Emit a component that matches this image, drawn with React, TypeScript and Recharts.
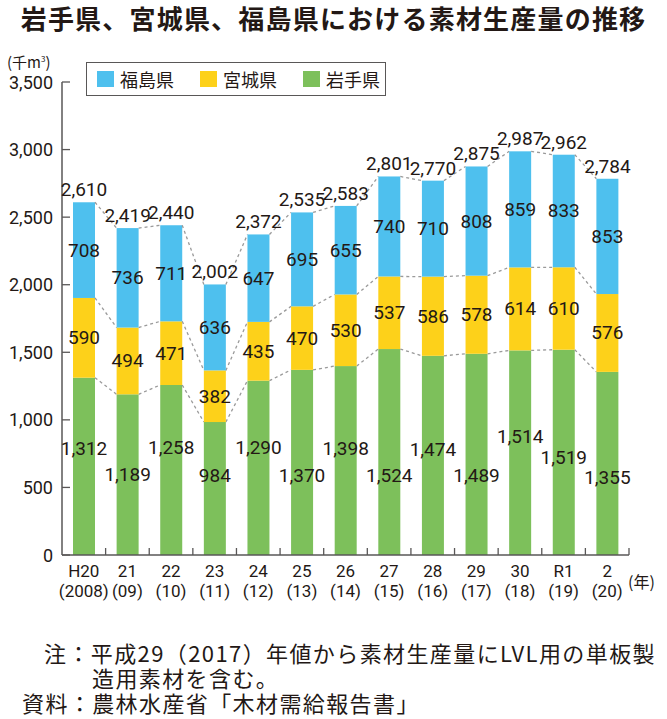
import { BarChart, Bar, XAxis, YAxis, LabelList, Legend } from 'recharts';

// 年度（和暦）と西暦
const years = ['H20', '21', '22', '23', '24', '25', '26', '27', '28', '29', '30', 'R1', '2'];
const westernYears = ['2008', '09', '10', '11', '12', '13', '14', '15', '16', '17', '18', '19', '20'];

// 県別の素材生産量（千㎥）
const iwate = [1312, 1189, 1258, 984, 1290, 1370, 1398, 1524, 1474, 1489, 1514, 1519, 1355];
const miyagi = [590, 494, 471, 382, 435, 470, 530, 537, 586, 578, 614, 610, 576];
const fukushima = [708, 736, 711, 636, 647, 695, 655, 740, 710, 808, 859, 833, 853];
const totals = [2610, 2419, 2440, 2002, 2372, 2535, 2583, 2801, 2770, 2875, 2987, 2962, 2784];

const yTicks = [0, 500, 1000, 1500, 2000, 2500, 3000, 3500];

// 岩手県ラベルの上下ずらし（重なり回避）
const iwateLabelShift = [-18, 0, -22, -13, -20, 13, -12, 23, -6, 21, -16, 5, 14];

const data = years.map((year, i) => ({
  year,
  western: westernYears[i],
  iwate: iwate[i],
  miyagi: miyagi[i],
  fukushima: fukushima[i],
  total: totals[i],
}));

const W = 667;
const H = 620;
const LEFT = 62;
const RIGHT = 38;
const BAND = (W - LEFT - RIGHT) / years.length;

const BLUE = '#4ec0ee';
const YELLOW = '#fdd11a';
const GREEN = '#7dc05b';
const AXIS = '#595757';
const TEXT = '#231815';
const JP = '"Noto Sans CJK JP", sans-serif';
const NUM = '"Liberation Sans Narrow", Roboto, sans-serif';

const fmt = (v: number) => v.toLocaleString('en-US');

type Key = 'iwate' | 'miyagi' | 'fukushima';
const lowOf = (key: Key, i: number) =>
  key === 'iwate' ? 0 : key === 'miyagi' ? iwate[i] : iwate[i] + miyagi[i];
const highOf = (key: Key, i: number) =>
  key === 'iwate' ? iwate[i] : key === 'miyagi' ? iwate[i] + miyagi[i] : totals[i];

// 棒と、次の棒の同じ段へ向かう点線
const makeShape = (key: Key, color: string) => (props: any) => {
  const { x, y, width, height } = props;
  const i = typeof props.index === 'number' ? props.index : years.indexOf(props.payload?.year);
  let line = null;
  if (i >= 0 && i < years.length - 1) {
    const low = lowOf(key, i);
    const high = highOf(key, i);
    const ppu = height / (high - low);
    const y0 = y + height + low * ppu;
    line = (
      <line
        x1={x + width}
        y1={y}
        x2={x + BAND}
        y2={y0 - highOf(key, i + 1) * ppu}
        stroke="#9a9a9a"
        strokeWidth={1.3}
        strokeDasharray="3 3"
      />
    );
  }
  return (
    <g>
      <rect x={x} y={y} width={width} height={height} fill={color} />
      {line}
    </g>
  );
};

const segLabel = (shift?: number[]) => (props: any) => {
  const vb = props.viewBox || props;
  const { x, y, width, height } = vb;
  const dy = shift ? shift[props.index] || 0 : 0;
  return (
    <text
      x={x + width / 2}
      y={y + height / 2 + dy}
      textAnchor="middle"
      dominantBaseline="central"
      fontFamily={NUM}
      fontSize={19}
      fill={TEXT}
    >
      {fmt(props.value)}
    </text>
  );
};

const totalLabel = (props: any) => {
  const vb = props.viewBox || props;
  const { x, y, width } = vb;
  return (
    <text x={x + width / 2} y={y - 6} textAnchor="middle" fontFamily={NUM} fontSize={19} fill={TEXT}>
      {fmt(totals[props.index])}
    </text>
  );
};

const XTick = (props: any) => {
  const { x, y, payload, index } = props;
  return (
    <g>
      <line x1={x + BAND / 2} y1={y} x2={x + BAND / 2} y2={y - 7} stroke={AXIS} strokeWidth={1.3} />
      <text x={x} y={y + 22} textAnchor="middle" fontFamily="Roboto" fontSize={17} fill={TEXT}>
        {payload.value}
      </text>
      <text x={x} y={y + 42} textAnchor="middle" fontFamily="Roboto" fontSize={17} fill={TEXT}>
        ({westernYears[index]})
      </text>
    </g>
  );
};

const YTick = (props: any) => {
  const { x, y, payload } = props;
  return (
    <g>
      <line x1={x} y1={y} x2={x + 8} y2={y} stroke={AXIS} strokeWidth={1.3} />
      <text x={x - 9} y={y} textAnchor="end" dominantBaseline="central" fontFamily="Roboto" fontSize={18} fill={TEXT}>
        {fmt(payload.value)}
      </text>
    </g>
  );
};

const legendItems = [
  { name: '福島県', color: BLUE },
  { name: '宮城県', color: YELLOW },
  { name: '岩手県', color: GREEN },
];

const LegendBox = () => (
  <div
    style={{
      display: 'flex',
      alignItems: 'center',
      gap: 26,
      width: 300,
      height: 34,
      boxSizing: 'border-box',
      border: `1.5px solid ${AXIS}`,
      background: '#fff',
      padding: '0 0 0 10px',
      fontFamily: JP,
      fontSize: 18,
      color: TEXT,
      whiteSpace: 'nowrap',
    }}
  >
    {legendItems.map((it) => (
      <span key={it.name} style={{ display: 'flex', alignItems: 'center', gap: 6, flexShrink: 0 }}>
        <span style={{ width: 17, height: 16, background: it.color, display: 'inline-block', flexShrink: 0 }} />
        {it.name}
      </span>
    ))}
  </div>
);

const noteStyle = {
  position: 'absolute' as const,
  fontSize: 22,
  letterSpacing: 1.4,
  lineHeight: '25px',
  whiteSpace: 'nowrap' as const,
};

export default function App() {
  return (
    <div style={{ position: 'absolute', left: 0, top: 0, width: W, height: 719, background: '#fff', fontFamily: JP, color: TEXT, overflow: 'hidden' }}>
      <div style={{ position: 'absolute', top: 2, left: 0, width: W, textAlign: 'center', fontSize: 26, letterSpacing: 1.2, fontWeight: 700, lineHeight: '32px', whiteSpace: 'nowrap' }}>
        岩手県、宮城県、福島県における素材生産量の推移
      </div>
      <div style={{ position: 'absolute', top: 54, left: 7, fontSize: 15, lineHeight: '15px', whiteSpace: 'nowrap' }}>
        (千m<sup style={{ fontSize: 8, lineHeight: '8px' }}>3</sup>)
      </div>

      <div style={{ position: 'absolute', top: 0, left: 0 }}>
        <BarChart width={W} height={H} data={data} margin={{ top: 82, right: RIGHT, left: 0, bottom: 0 }} barSize={22}>
          <YAxis
            width={LEFT}
            domain={[0, 3500]}
            ticks={yTicks}
            interval={0}
            tickSize={0}
            tickMargin={0}
            tickLine={false}
            axisLine={{ stroke: AXIS, strokeWidth: 1.5 }}
            tick={<YTick />}
          />
          <XAxis
            dataKey="year"
            height={65}
            interval={0}
            tickSize={0}
            tickMargin={0}
            tickLine={false}
            axisLine={{ stroke: AXIS, strokeWidth: 1.5 }}
            tick={<XTick />}
          />
          <Legend verticalAlign="middle" align="center" layout="horizontal" content={<LegendBox />} wrapperStyle={{ top: 62, left: 86, width: 300 }} />
          <Bar dataKey="iwate" name="岩手県" stackId="a" fill={GREEN} shape={makeShape('iwate', GREEN)} isAnimationActive={false}>
            <LabelList dataKey="iwate" content={segLabel(iwateLabelShift)} />
          </Bar>
          <Bar dataKey="miyagi" name="宮城県" stackId="a" fill={YELLOW} shape={makeShape('miyagi', YELLOW)} isAnimationActive={false}>
            <LabelList dataKey="miyagi" content={segLabel()} />
          </Bar>
          <Bar dataKey="fukushima" name="福島県" stackId="a" fill={BLUE} shape={makeShape('fukushima', BLUE)} isAnimationActive={false}>
            <LabelList dataKey="fukushima" content={segLabel()} />
            <LabelList dataKey="total" content={totalLabel} />
          </Bar>
        </BarChart>
      </div>

      <div style={{ position: 'absolute', top: 570, left: 628, fontSize: 16, lineHeight: '22px' }}>(年)</div>

      <div style={{ ...noteStyle, top: 640, left: 44 }}>
        注：平成29（2017）年値から素材生産量にLVL用の単板製
      </div>
      <div style={{ ...noteStyle, top: 665, left: 92 }}>
        造用素材を含む。
      </div>
      <div style={{ ...noteStyle, top: 690, left: 22 }}>
        資料：農林水産省「木材需給報告書」
      </div>
    </div>
  );
}
